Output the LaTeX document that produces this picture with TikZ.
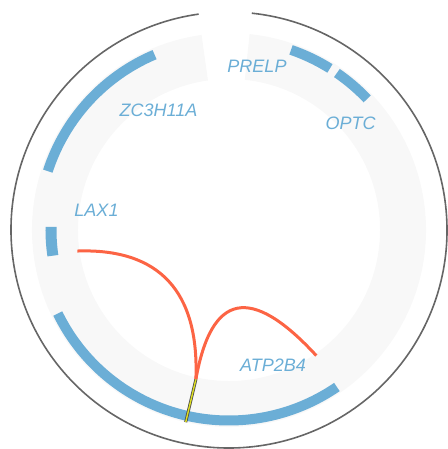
\documentclass[tikz,border=0pt]{standalone}
\usepackage{fontspec}
\setmainfont{Liberation Sans}
\usepackage{tikz}
\usetikzlibrary{calc}
\usepackage{xcolor}
\definecolor{bluGene}{RGB}{107,174,214}
\definecolor{rossoLink}{RGB}{252,100,68}
\definecolor{grigioBanda}{RGB}{248,248,248}
\definecolor{grigioCerchio}{RGB}{102,102,102}
\definecolor{gialloLink}{RGB}{222,222,30}
\tikzset{
    gene/.style = {line width = 10pt, bluGene},
    etichetta/.style = {text = bluGene, font = \fontsize{18}{20}\selectfont\itshape, inner sep = 0pt},
    link/.style = {line width = 3pt, rossoLink}
}

\begin{document}
\begin{tikzpicture}[x = 1pt, y = 1pt]
    % parametri
    \pgfmathsetmacro{\rgene}{190.5}
    \pgfmathsetmacro{\rlax}{178}
    \pgfmathsetmacro{\rest}{218}
    \pgfmathsetmacro{\rbandaout}{197}
    \pgfmathsetmacro{\rbandain}{151}
    \pgfmathsetmacro{\rlink}{153}
    % bordi
    \useasboundingbox (-229,-219) rectangle (218,230);
    % banda grigia
    \fill[grigioBanda] (98:\rbandaout) arc[start angle = 98, end angle = 444, radius = \rbandaout] -- (444:\rbandain) arc[start angle = 444, end angle = 98, radius = \rbandain] -- cycle;
    % cerchio esterno
    \draw[grigioCerchio, line width = 1.6pt] (98:\rest) arc[start angle = 98, end angle = 444, radius = \rest];
    % geni
    \draw[gene] (113:\rgene) arc[start angle = 113, end angle = 162, radius = \rgene];
    \draw[gene] (206:\rgene) arc[start angle = 206, end angle = 304.5, radius = \rgene];
    \draw[gene] (58:\rgene) arc[start angle = 58, end angle = 71, radius = \rgene];
    \draw[gene] (43.5:\rgene) arc[start angle = 43.5, end angle = 55.5, radius = \rgene];
    \draw[gene, line width = 11pt] (179:\rlax) arc[start angle = 179, end angle = 188.3, radius = \rlax];
    % etichette
    \node[etichetta] (prelp) at (28,164) {PRELP};
    \node[etichetta] (optc) at (121.5,107) {OPTC};
    \node[etichetta] (zc) at (-70.5,120) {ZC3H11A};
    \node[etichetta] (lax) at (-132.5,20) {LAX1};
    \node[etichetta] (atp) at (44,-135) {ATP2B4};
    % estremi dei link
    \coordinate (laxA) at (187.9:\rlink);
    \coordinate (atpA) at (257.5:\rlink);
    \coordinate (atpB) at (304.8:\rlink);
    \coordinate (atpC) at (257.3:197);
    % link
    \draw[link] (laxA) .. controls (-69.7,-18.3) and (-29.7,-61.3) .. (atpA);
    \draw[link] (atpA) .. controls (-17.7,-62.7) and (21.7,-54.3) .. (atpB);
    % segmento giallo
    \draw[black!70, line width = 3pt] (atpA) -- (atpC);
    \draw[gialloLink, line width = 1.4pt] (atpA) -- (atpC);
\end{tikzpicture}
\end{document}
